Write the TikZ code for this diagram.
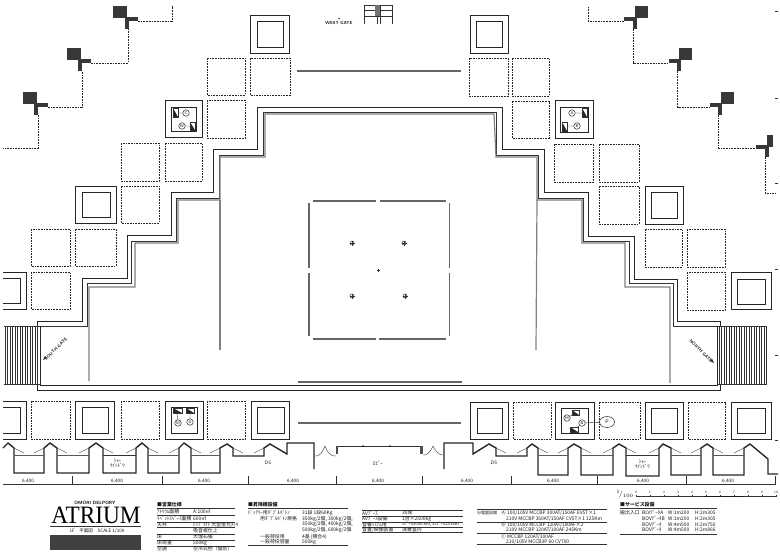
\documentclass[tikz,border=0pt]{standalone}
\usepackage{fontspec}
\usetikzlibrary{shapes.geometric}
\setmainfont{Liberation Serif}
\newfontfamily\cjk{Noto Sans CJK JP}
\tikzset{
  wall/.style={line width=0.9pt,black!85},
  thickwall/.style={line width=1.4pt,black!85},
  greywall/.style={line width=1.2pt,black!50},
  thinline/.style={line width=0.4pt,black!80},
  dashcell/.style={line width=0.6pt,black!85,dash pattern=on 1.7pt off 1pt},
  pilot/.style={fill=black!78,draw=none},
  cable/.style={line width=0.6pt,black!85,dash pattern=on 1.7pt off 1pt},
  tinytxt/.style={font=\cjk\fontsize{4.9}{5.2}\selectfont,anchor=west,inner sep=0pt,text=black!90},
  headtxt/.style={tinytxt,font=\cjk\bfseries\fontsize{4.9}{5.2}\selectfont},
  dimtxt/.style={font=\fontsize{4.9}{5}\selectfont\sffamily,inner sep=0.3pt,text=black!90},
  lettermark/.style={circle,draw=black!85,line width=0.5pt,inner sep=0pt,minimum size=6.5pt,font=\fontsize{4}{4}\selectfont\sffamily},
  gatetxt/.style={font=\fontsize{4.4}{5}\selectfont\sffamily\bfseries,inner sep=0pt,text=black!90}
}
\begin{document}
\begin{tikzpicture}[x=1pt,y=-1pt]
  \useasboundingbox (0,0) rectangle (780,552);
  % dashed bays
  \foreach \xa/\ya/\xb/\yb in {207/58/245/95,250/58/290/95,207/100/245/138,121/143/159/181,165/143/202/181,
      121/186/159/223,31/229/70/266,75/229/116/266,31/272/70/309,469/58/508/96,512/58/549/96,512/101/549/138,
      554/144/593/182,599/144/639/182,599/186/639/224,645/229/682/267,687/229/725/267,687/272/725/310,
      31/401/70/439,121/401/159/439,207/401/245/439,513/402/551/439,599/402/640/439,688/402/725/439}
    \draw[dashcell] (\xa,\ya) rectangle (\xb,\yb);
  % double squares
  \foreach \xa/\ya/\xb/\yb/\xc/\yc/\xd/\yd in {250/15/289/53/257/21/283/47,470/15/508/53/476/21/502/47,
      165/100/202/137/171/107/196/131,555/100/593/138/560/107/588/132,75/186/116/223/82/192/110/217,
      645/186/683/224/651/192/677/218,731/272/771/309/737/279/765/304,75/401/114/439/82/407/108/433,
      165/401/203/439/171/407/197/433,251/401/289/439/257/407/284/433,470/402/508/439/477/408/502/433,
      555/402/594/439/561/408/588/433,645/402/683/439/651/408/677/433,731/402/771/439/737/408/765/433}
  {
    \draw[wall] (\xa,\ya) rectangle (\xb,\yb);
    \draw[wall] (\xc,\yc) rectangle (\xd,\yd);
  }
  \draw[wall] (3,272) -- (26,272) -- (26,309) -- (3,309);
  \draw[wall] (3,278) -- (20,278) -- (20,303) -- (3,303);
  \draw[wall] (3,401) -- (26,401) -- (26,439) -- (3,439);
  \draw[wall] (3,407) -- (20,407) -- (20,433) -- (3,433);
  % stepped walls
  \draw[wall] (37,326) -- (37,321) -- (82,321) -- (82,278) -- (127,278) -- (127,235) -- (171,235) -- (171,192)
    -- (213,192) -- (213,149) -- (257,149) -- (257,107) -- (502,107) -- (502,149) -- (544,149) -- (544,192)
    -- (588,192) -- (588,236) -- (634,236) -- (634,279) -- (677,279) -- (677,321) -- (720,321) -- (720,326);
  \draw[thinline,line width=0.7pt] (40,326) -- (87,326) -- (87,283) -- (131,283) -- (131,241) -- (176,241) -- (176,198)
    -- (219,198) -- (219,155) -- (263,155) -- (263,112) -- (496,112) -- (496,155) -- (538,155) -- (538,198)
    -- (583,198) -- (583,241) -- (629,241) -- (629,283) -- (673,283) -- (673,326) -- (717,326);
  \draw[greywall] (89,381) -- (89,287) -- (135,287) -- (135,243) -- (178,243) -- (178,200) -- (220,200) -- (220,157)
    -- (265,157) -- (265,114) -- (494,114) -- (496,157) -- (537,157) -- (537,200) -- (582,200) -- (582,243)
    -- (625,243) -- (625,287) -- (670,287) -- (670,383);
  \draw[greywall] (220,200) -- (220,350);
  \draw[greywall] (537,200) -- (536,350);
  % lower walls and stairs
  \draw[wall] (40,326) -- (40,385) -- (717,385) -- (717,326);
  \draw[wall] (37,381) -- (37,390) -- (720,390) -- (720,384);
  \draw[thinline] (4,326) -- (40,326) (4,384) -- (40,384) (717,326) -- (766,326) -- (766,384) -- (717,384);
  \foreach \x in {5,7.5,...,38} \draw[thinline,line width=0.6pt] (\x,326) -- (\x,384);
  \foreach \x in {719,721.5,...,766} \draw[thinline,line width=0.6pt] (\x,326) -- (\x,384);
  % centre court
  \foreach \xa/\xb/\yy in {313/376/201,380/446/201,313/376/339,379/446/339}
    \draw[greywall,black!60] (\xa,\yy) -- (\xb,\yy);
  \foreach \xx/\ya/\yb in {309/203/268,309/273/336,449.5/203/268,449.5/273/336}
    \draw[greywall,black!60] (\xx,\ya) -- (\xx,\yb);
  \foreach \xx/\yy in {352/243,352/296,404/243,405/296}
  {
    \draw[thinline,line width=0.5pt] (\xx,\yy) circle (2);
    \draw[thinline,line width=0.3pt] (\xx-2.5,\yy) -- (\xx+2.5,\yy) (\xx,\yy-2.5) -- (\xx,\yy+2.5);
  }
  \draw[thinline] (376.5,270) -- (379.5,270) (378,268.5) -- (378,271.5);
  \foreach \xa/\xb/\yy in {297/461/71,298/462/382,298/461/423}
    \draw[greywall,line width=1.3pt,black!60] (\xa,\yy) -- (\xb,\yy);
  % pilots and cables
  \foreach \xs/\ys/\xt/\yt/\xu in {113/6/125/17/138,67/48/78/59/91,23/92/34/103/48}
  {
    \fill[pilot] (\xs,\ys) rectangle +(13.5,12);
    \fill[pilot] (\xt,\yt) rectangle (\xu,\yt+4);
    \fill[pilot] (\xt,\yt) rectangle (\xt+4,\yt+12);
  }
  \foreach \xs/\ys/\xt/\yt/\xu/\wd in {635/6/633/17/624/13,679/48/677/59/669/13,721/92/718/103/710/13,767/135/765/145/756/6}
  {
    \fill[pilot] (\xs,\ys) rectangle +(\wd,12);
    \fill[pilot] (\xt+4,\yt) rectangle (\xu,\yt+4);
    \fill[pilot] (\xt,\yt) rectangle (\xt+4,\yt+12);
  }
  \draw[cable] (138,21) -- (172,21) -- (172,6);
  \draw[cable] (91,63) -- (128,63) -- (128,29);
  \draw[cable] (48,107) -- (82,107) -- (82,71);
  \draw[cable] (38,115) -- (38,148) -- (3,148);
  \draw[cable] (624,21) -- (588,21) -- (588,6);
  \draw[cable] (633,29) -- (633,63) -- (669,63);
  \draw[cable] (677.5,71) -- (677.5,107) -- (710,107);
  \draw[cable] (718.5,115) -- (718.5,148) -- (756,148);
  \draw[cable] (765,157) -- (765,193) -- (775,193);
  \foreach \yy in {11,98,183,269,355,440} \draw[thinline,line width=0.7pt] (775,\yy) -- (778,\yy);
  % west gate
  \node[gatetxt] (westgate) at (339,22.5) {WEST GATE};
  \fill[black!80] (338,19) -- (340,19) -- (339,17.5) -- cycle;
  \draw[thinline] (364,5) -- (392,5) (364,10) -- (392,10) (364,16) -- (392,16);
  \foreach \x in {364,377,380,392} \draw[thinline,line width=0.7pt] (\x,5) -- (\x,24);
  \fill[black!55] (375,5) rectangle (380,16);
  % side gates
  \node[gatetxt,rotate=45] (southgate) at (56,349) {SOUTH GATE};
  \node[gatetxt,rotate=-45] (northgate) at (701,351) {NORTH GATE};
  \fill[black!85] (43,360) -- (47,358) -- (45,356) -- cycle;
  \fill[black!85] (714,363) -- (710,361) -- (712,359) -- cycle;
  % equipment marks
  \foreach \xa/\ya/\xb/\yb in {173/108/178/117,190/122/195/130,582/108/587/117,562/122/567/131,
      173/408/182/413,186/408/194/413,572/410/579/415,570/427/578/432}
  {
    \fill[black!85] (\xa,\yb) -- (\xb,\yb) -- (\xa,\ya) -- cycle;
    \draw[thinline,line width=0.5pt] (\xa,\ya) rectangle (\xb,\yb);
  }
  \node[lettermark] (markc) at (186,113) {C};
  \node[lettermark] (markw) at (182,126) {W};
  \node[lettermark] (marka) at (572,113) {A};
  \node[lettermark] (markb) at (577,126) {B};
  \node[lettermark] (markm) at (178,423) {M};
  \node[lettermark] (markn) at (190,422) {A};
  \node[lettermark] (markp) at (567,418) {M};
  \node[lettermark] (markq) at (582,423) {B};
  \node[draw=black!85,ellipse,line width=0.5pt,minimum width=15pt,minimum height=11pt,inner sep=0pt,font=\fontsize{5}{5}\selectfont\sffamily] (markr) at (607,422) {P};
  \draw[thinline] (178,113) -- (markc) (190,126) -- (markw) (582,113) -- (marka) (567,126) -- (markb)
    (177,413) -- (markm) (190,413) -- (markn) (572,415) -- (markp) (578,427) -- (markq) (markq) -- (markr);
  % outer wall profile
  \draw[thickwall,line join=miter] (3,448) -- (8,443) -- (14,448) -- (14,473) -- (44,473) -- (44,448) -- (50,443) -- (57,448)
    -- (57,473) -- (89,473) -- (89,448) -- (96,443) -- (103,448) -- (103,473) -- (136,473) -- (136,448) -- (142,443)
    -- (148,448) -- (148,473) -- (179,473) -- (179,448) -- (184,443) -- (191,448) -- (191,473) -- (220,473) -- (220,448)
    -- (227,444) -- (233,448) -- (233,456) -- (264,456) -- (264,448) -- (270,444) -- (287,454) -- (287,443) -- (314,443) -- (314,469);
  \draw[thickwall,line join=miter] (444,469) -- (444,443) -- (473,443) -- (473,454) -- (489,444) -- (496,448) -- (496,456) -- (527,456)
    -- (527,448) -- (532,444) -- (538,448) -- (538,475) -- (568,475) -- (568,448) -- (574,444) -- (581,448) -- (581,475)
    -- (613,475) -- (613,448) -- (619,444) -- (626,448) -- (626,476) -- (659,476) -- (659,448) -- (663,444) -- (671,448)
    -- (671,475) -- (701,475) -- (701,448) -- (707,444) -- (713,448) -- (713,475) -- (744,475) -- (744,448) -- (750,444)
    -- (768,459) -- (768,474) -- (778,474);
  \foreach \xa/\xb in {14/44,57/89,148/179,191/220,538/568,581/613,671/701,713/744}
    \draw[greywall,line width=1pt,black!65] (\xa,455.5) -- (\xb,455.5);
  \foreach \xa/\xb in {103/136,626/659}
    \draw[thinline,line width=0.7pt] (\xa,455.5) -- (\xb,455.5);
  \foreach \xa/\xb in {44/57,89/103,136/148,179/191,220/233,527/538,568/581,613/626,659/671,701/713}
    \draw[thinline] (\xa-10,453) -- (\xa,448) (\xb,448) -- (\xb+10,453);
  \draw[thinline] (14,448) -- (24,453) (254,453) -- (264,448) (496,448) -- (506,453) (734,453) -- (744,448);
  % lobby doors
  \draw[thinline] (315,456) .. controls (319,457) and (323,452) .. (325,446) .. controls (327,452) and (331,457) .. (336,456);
  \draw[thinline] (423,455) .. controls (427,456) and (431,451) .. (433,446) .. controls (435,451) and (440,456) .. (444,455);
  \fill[black!70] (336,446) rectangle (338,454);
  \fill[black!70] (420,446) rectangle (423,454);
  \draw[thinline,line width=0.7pt] (338,446) -- (420,446);
  \fill[black!85] (363,446) circle (1);
  \fill[black!85] (390,446) circle (1);
  % room names
  \node[tinytxt,anchor=center,align=center] (window1) at (117.5,463.5) {ｼｮｰ\\ｳｲﾝﾄﾞｳ};
  \node[tinytxt,anchor=center,align=center] (window2) at (642.5,464) {ｼｮｰ\\ｳｲﾝﾄﾞｳ};
  \node[dimtxt] (ds1) at (268,463) {DS};
  \node[dimtxt] (ds2) at (494,463) {DS};
  \node[tinytxt,anchor=center] (lobby) at (378,463) {ﾛﾋﾞｰ};
  % dimensions
  \draw[thinline,line width=0.6pt] (3,484.5) -- (776,484.5);
  \foreach \x in {72,162,248,336,422,511,597,686,775} \draw[thinline] (\x,476) -- (\x,484.5);
  \foreach \x in {28,117,204,293,378,467,553,643,728}
    \node[dimtxt] (dim\x) at (\x,481.5) {6,400};
  % scale bar
  \node[font=\fontsize{7}{7}\selectfont,inner sep=0pt] (scalemark) at (625,494) {$^1\!/_{100}$};
  \draw[thinline,line width=0.6pt] (636,496.5) -- (777,496.5);
  \draw[line width=1.3pt,black!90] (704,496.5) -- (743,496.5);
  \foreach \x in {0,...,10}
    \draw[thinline] (636+14*\x,494.5) -- (636+14*\x,496.5);
  \foreach \x in {0,...,10}
    \node[dimtxt,font=\fontsize{3.4}{3.6}\selectfont\sffamily] (bar\x) at (636+14*\x,492) {\x};
  % title block
  \node[font=\fontsize{4.6}{5}\selectfont\sffamily\bfseries,inner sep=0pt] (maker) at (95,503) {OMORI DELPORY};
  \node[font=\fontsize{25}{25}\selectfont,xscale=0.93,transform shape,inner sep=0pt] (atrium) at (96,515.5) {ATRIUM};
  \draw[thinline] (50,526.5) -- (141,526.5);
  \node[tinytxt,anchor=center,font=\cjk\fontsize{4.6}{5}\selectfont] (floorname) at (97,531.5) {1F　平面図　SCALE 1/100};
  \fill[black!75] (50,535) rectangle (141,550);
  % spec tables
  \node[headtxt] (head1) at (157,505) {■営業仕様};
  \foreach \yy in {508,515,522,527,534,540,546} \draw[thinline] (157,\yy) -- (235,\yy);
  \foreach \yy/\ta/\tb [count=\i] in {511.5/ｱﾄﾘｳﾑ面積/A:100㎡,518.5/ｲﾍﾞﾝﾄｽﾍﾟｰｽ面積/600㎡,524.5/天井/ﾄｯﾌﾟﾗｲﾄ 大型蛍光ﾒｯｷ,
      530.5/{}/吸音板仕上,537/床/大理石張,543/床荷重/500kg/㎡,549/空調/空冷式他（個別）}
  {
    \node[tinytxt] (a\i) at (157,\yy) {\ta};
    \node[tinytxt] (b\i) at (193,\yy) {\tb};
  }
  \node[headtxt] (head2) at (248,505) {■昇降機設備};
  \draw[thinline] (248,508) -- (348,508) (248,545) -- (348,545);
  \node[tinytxt] (c1) at (248,513) {ﾊﾞｯﾃﾘｰ用ﾀﾞﾌﾞﾙﾎﾞﾄﾝ};
  \node[tinytxt] (c2) at (260,519) {用ﾀﾞﾌﾞﾙﾎﾞﾄﾝ規格};
  \node[tinytxt] (c3) at (260,537) {一般荷役用};
  \node[tinytxt] (c4) at (260,542) {一般荷役容量};
  \node[tinytxt] (d1) at (302,513) {31段 1段60Kg};
  \node[tinytxt] (d2) at (302,519) {350kg/2個, 300kg/2個,};
  \node[tinytxt] (d3) at (302,524.5) {350kg/2個, 400kg/2個,};
  \node[tinytxt] (d4) at (302,530) {500kg/2個, 600kg/2個};
  \node[tinytxt] (d5) at (302,537) {4基 (積合4)};
  \node[tinytxt] (d6) at (302,542) {500kg};
  \foreach \yy in {510,516,522,527,532} \draw[thinline] (362,\yy) -- (463,\yy);
  \node[tinytxt] (e1) at (362,513) {AVﾌﾞｰｽ};
  \node[tinytxt] (e2) at (362,519) {AVﾌﾞｰｽ設備};
  \node[tinytxt] (e3) at (362,524.5) {音響ｼｽﾃﾑ用};
  \node[tinytxt] (e4) at (362,530) {音量/映像装置};
  \node[tinytxt] (f1) at (402,513) {30席};
  \node[tinytxt] (f2) at (402,519) {1台×2500kg};
  \node[tinytxt,font=\cjk\fontsize{4.3}{5}\selectfont] (f3) at (402,524.5) {ｽﾋﾟｰｶ3030.8m, 3ｽﾋﾟｰｶ2516m};
  \node[tinytxt] (f4) at (402,530) {演奏室内};
  \foreach \yy in {509,522,533,544} \draw[thinline] (477,\yy) -- (607,\yy);
  \node[tinytxt,font=\cjk\fontsize{4}{5}\selectfont] (g0) at (477,513) {分電盤設備};
  \node[tinytxt] (g1) at (501,513) {Ⓐ 100/105V MCCBP 300AT/150AF EV5T×1};
  \node[tinytxt] (g2) at (506,519) {210V MCCBP 350AT/150AF CV5T×1 125Km};
  \node[tinytxt] (g3) at (501,524.5) {Ⓑ 100/105V MCCBP 120AT/100AF×2};
  \node[tinytxt] (g4) at (506,530) {210V MCCBP 120AT/100AF 245Km};
  \node[tinytxt] (g5) at (501,536.5) {Ⓒ MCCBP 120AT/100AF};
  \node[tinytxt] (g6) at (506,542) {210/105V MCCB3P 60 CV700};
  \node[headtxt] (head5) at (620,505) {■サービス設備};
  \draw[thinline] (620,508) -- (717,508) (620,534) -- (717,534);
  \node[tinytxt] (h0) at (620,513) {搬出入口};
  \foreach \yy/\ta/\tb/\tc [count=\i] in {513/BLVﾃﾞｰﾀA/W:1m200/H:2m305,519/BOVﾃﾞｰﾀB/W:1m200/H:2m305,
      524.5/BOVﾃﾞｰﾀ/W:4m500/H:2m750,530/BOVﾃﾞｰﾀ/W:4m500/H:2m866}
  {
    \node[tinytxt] (m\i) at (642,\yy) {\ta};
    \node[tinytxt] (n\i) at (668,\yy) {\tb};
    \node[tinytxt] (o\i) at (695,\yy) {\tc};
  }
\end{tikzpicture}
\end{document}
